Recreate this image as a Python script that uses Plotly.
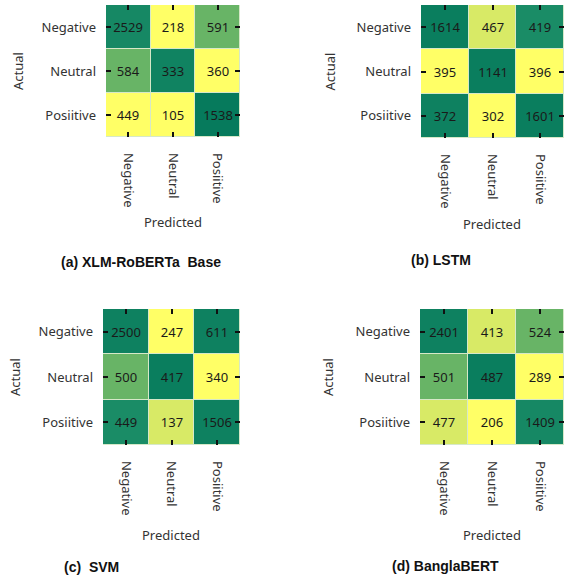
import plotly.graph_objects as go

labels = ["Negative", "Neutral", "Posiitive"]
idx = [0, 1, 2]

xlmr_counts = [[2529, 218, 591], [584, 333, 360], [449, 105, 1538]]
lstm_counts = [[1614, 467, 419], [395, 1141, 396], [372, 302, 1601]]
svm_counts = [[2500, 247, 611], [500, 417, 340], [449, 137, 1506]]
bbert_counts = [[2401, 413, 524], [501, 487, 289], [477, 206, 1409]]

# colour level of each cell on the summer scale (0 = dark green, 1 = yellow)
xlmr_shade = [[0.08, 1.0, 0.4], [0.4, 0.05, 1.0], [1.0, 1.0, 0.0]]
lstm_shade = [[0.02, 0.85, 0.1], [1.0, 0.02, 1.0], [0.04, 1.0, 0.02]]
svm_shade = [[0.04, 1.0, 0.04], [0.4, 0.02, 1.0], [0.1, 0.85, 0.04]]
bbert_shade = [[0.04, 0.85, 0.4], [0.4, 0.02, 1.0], [0.85, 1.0, 0.08]]

captions = ["<b>(a) XLM-RoBERTa  Base</b>", "<b>(b) LSTM</b>", "<b>(c)  SVM</b>", "<b>(d) BanglaBERT</b>"]

summer = [[0.0, "#067a5c"], [0.1, "#1a8c66"], [0.4, "#68b466"], [0.85, "#d8ea66"], [1.0, "#ffff66"]]

W, H = 564, 578
panels = [
    # (counts, shade, x0, x1, ytop, ybot, actual_x, pred_x, pred_y, cap_x, cap_y)
    (xlmr_counts, xlmr_shade, 106, 240, 5, 137, 18, 173, 222, 141, 262),
    (lstm_counts, lstm_shade, 421, 564, 5, 138, 330, 492, 224, 441, 260),
    (svm_counts, svm_shade, 103, 240, 309, 445, 15, 171, 535, 91, 567),
    (bbert_counts, bbert_shade, 420, 564, 309, 445, 328, 492, 535, 445, 566),
]

fig = go.Figure()
annotations = []
font_family = "Noto Sans"
for i, (counts, shade, x0, x1, yt, yb, ax, px, py, cx, cy) in enumerate(panels):
    n = "" if i == 0 else str(i + 1)
    xa, ya = "x" + n, "y" + n
    fig.add_trace(go.Heatmap(
        z=shade, x=idx, y=idx, text=counts, texttemplate="%{text}",
        textfont=dict(size=13, color="#1a1a1a", family=font_family),
        colorscale=summer, zmin=0, zmax=1, showscale=False, xgap=1, ygap=1,
        xaxis=xa, yaxis=ya, hoverinfo="skip"))
    common = dict(ticks="inside", ticklen=5, tickwidth=2, tickcolor="#111",
                  mirror="ticks", showgrid=False, zeroline=False,
                  tickmode="array", tickvals=idx, ticktext=labels,
                  tickfont=dict(size=13, color="#333", family=font_family))
    fig.update_layout(**{
        "xaxis" + n: dict(domain=[x0 / W, x1 / W], anchor=ya, tickangle=90,
                          range=[-0.5, 2.5], ticklabelstandoff=15, **common),
        "yaxis" + n: dict(domain=[1 - yb / H, 1 - yt / H], anchor=xa,
                          range=[2.5, -0.5], ticklabelstandoff=9, **common),
    })
    yc = (yt + yb) / 2
    annotations.append(dict(text="Actual", x=ax / W, y=1 - yc / H, xref="paper", yref="paper",
                            textangle=-90, showarrow=False, xanchor="center", yanchor="middle",
                            font=dict(size=13, color="#333", family=font_family)))
    annotations.append(dict(text="Predicted", x=px / W, y=1 - py / H, xref="paper", yref="paper",
                            showarrow=False, xanchor="center", yanchor="middle",
                            font=dict(size=13, color="#333", family=font_family)))
    annotations.append(dict(text=captions[i], x=cx / W, y=1 - cy / H, xref="paper", yref="paper",
                            showarrow=False, xanchor="center", yanchor="middle",
                            font=dict(size=14, color="#111", family="Liberation Sans")))

fig.update_layout(width=W, height=H, margin=dict(l=0, r=0, t=0, b=0),
                  paper_bgcolor="white", plot_bgcolor="#d6e8c8",
                  annotations=annotations, showlegend=False)
fig.write_html("out.html", config={"displayModeBar": False},
               post_script="document.body.style.margin='0';document.body.style.overflow='hidden';")
